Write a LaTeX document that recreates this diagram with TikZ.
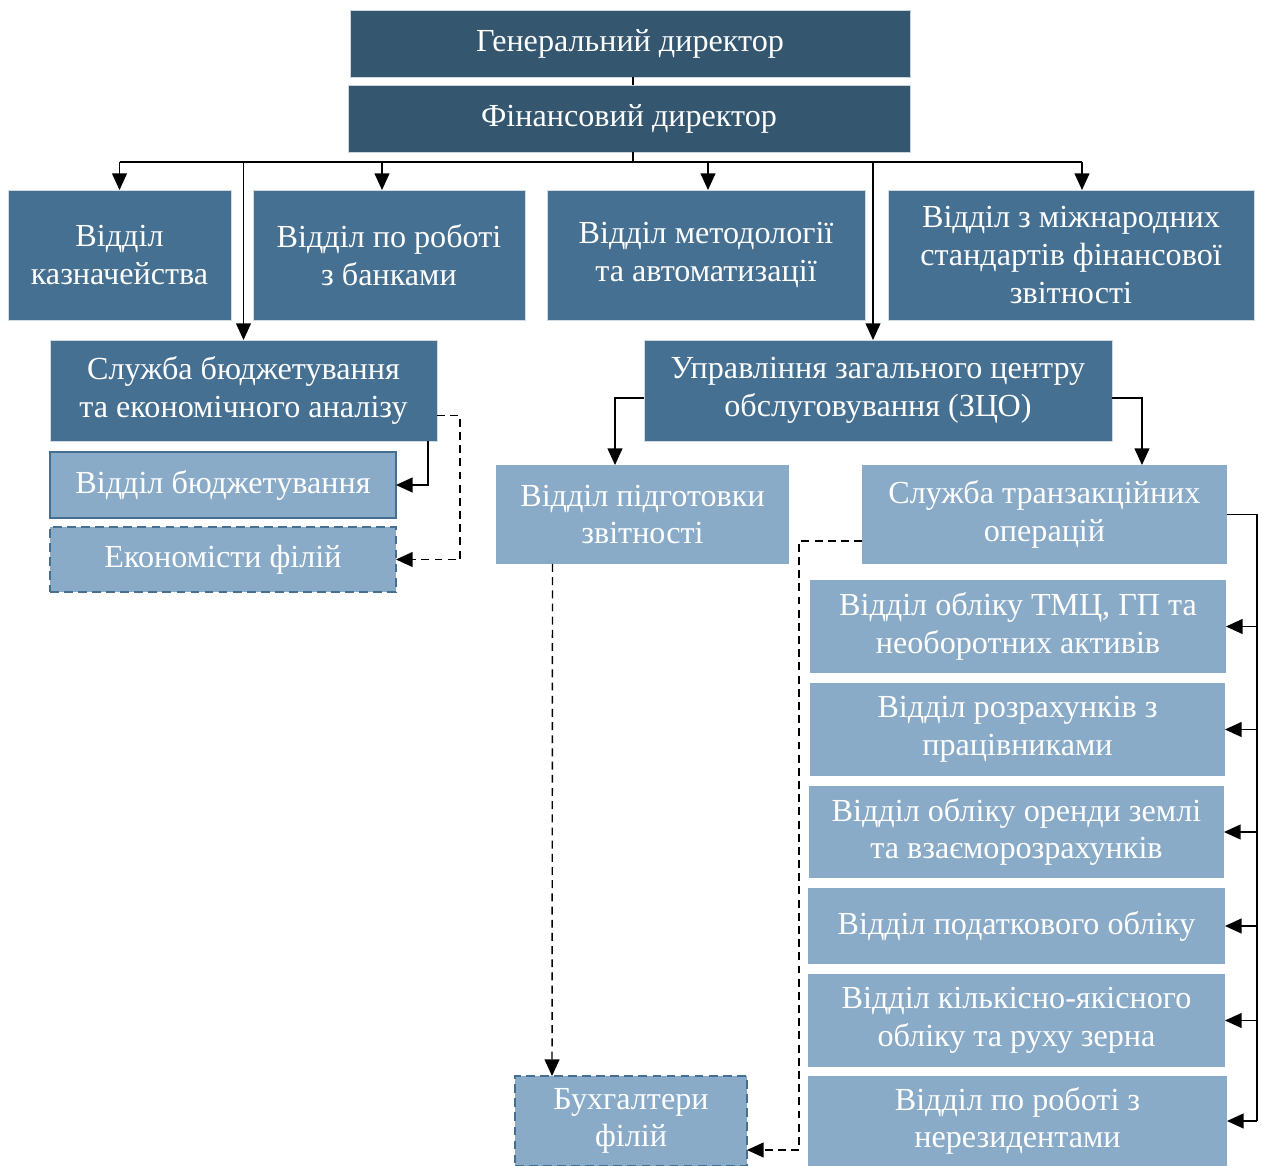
\documentclass[tikz,border=0pt]{standalone}
\usepackage{fontspec}
\setmainfont{Liberation Serif}
\usetikzlibrary{arrows.meta}
\definecolor{topblue}{RGB}{52,86,111}
\definecolor{midblue}{RGB}{70,112,146}
\definecolor{lightblue}{RGB}{138,171,200}
\begin{document}
\begin{tikzpicture}[x=0.02cm, y=-0.02cm, font=\fontsize{18.3}{21.5}\selectfont]
\tikzset{
  base/.style={rectangle, inner sep=0pt, outer sep=0pt, align=center, text=white},
  topbox/.style={base, fill=topblue, draw=white!75!topblue, line width=0.4pt},
  midbox/.style={base, fill=midblue, draw=white!75!midblue, line width=0.4pt},
  lightbox/.style={base, fill=lightblue},
  framebox/.style={lightbox, draw=midblue, line width=1.2pt},
  dashbox/.style={lightbox, draw=midblue, line width=1.2pt, dash pattern=on 5pt off 3pt},
  arr/.style={-{Triangle[width=8.5pt,length=9.5pt]}, line width=0.8pt},
  dasharr/.style={arr, dash pattern=on 4.5pt off 3pt},
  line/.style={line width=0.8pt},
}
\useasboundingbox (0,0) rectangle (1262,1166);
% top management
\node[topbox, minimum width=11.2cm, minimum height=1.34cm] (gen) at (630,43.5) {Генеральний директор};
\node[topbox, minimum width=11.24cm, minimum height=1.34cm] (fin) at (629,118.5) {Фінансовий директор};
% departments under the CFO
\node[midbox, minimum width=4.46cm, minimum height=2.6cm] (kazn) at (119.5,255) {Відділ\\казначейства};
\node[midbox, minimum width=5.44cm, minimum height=2.6cm] (bank) at (389,255) {Відділ по роботі\\з банками};
\node[midbox, minimum width=6.36cm, minimum height=2.6cm] (metod) at (706,255) {Відділ методології\\та автоматизації};
\node[midbox, minimum width=7.32cm, minimum height=2.6cm] (ifrs) at (1071,255) {Відділ з міжнародних\\стандартів фінансової\\звітності};
% budgeting
\node[midbox, minimum width=7.74cm, minimum height=2.02cm] (budsl) at (243.5,390.5) {Служба бюджетування\\та економічного аналізу};
\node[framebox, minimum width=6.92cm, minimum height=1.32cm] (budv) at (223,485) {Відділ бюджетування};
\node[dashbox, minimum width=6.92cm, minimum height=1.3cm] (econ) at (223,559.5) {Економісти філій};
% shared service centre
\node[midbox, minimum width=9.36cm, minimum height=2.02cm] (zco) at (878,390.5) {Управління загального центру\\обслуговування (ЗЦО)};
\node[lightbox, minimum width=5.86cm, minimum height=1.98cm] (pidg) at (642.5,514.5) {Відділ підготовки\\звітності};
\node[lightbox, minimum width=7.3cm, minimum height=1.98cm] (tran) at (1044.5,514.5) {Служба транзакційних\\операцій};
\node[lightbox, minimum width=8.32cm, minimum height=1.86cm] (tmc) at (1018,626.5) {Відділ обліку ТМЦ, ГП та\\необоротних активів};
\node[lightbox, minimum width=8.3cm, minimum height=1.86cm] (rozr) at (1017.5,729.5) {Відділ розрахунків з\\працівниками};
\node[lightbox, minimum width=8.3cm, minimum height=1.84cm] (orend) at (1016.5,832) {Відділ обліку оренди землі\\та взаєморозрахунків};
\node[lightbox, minimum width=8.34cm, minimum height=1.52cm] (podat) at (1016.5,926) {Відділ податкового обліку};
\node[lightbox, minimum width=8.34cm, minimum height=1.86cm] (kilk) at (1016.5,1020.5) {Відділ кількісно-якісного\\обліку та руху зерна};
\node[lightbox, minimum width=8.38cm, minimum height=1.8cm] (nerez) at (1017.5,1121) {Відділ по роботі з\\нерезидентами};
\node[dashbox, minimum width=4.64cm, minimum height=1.8cm] (buh) at (631,1121) {Бухгалтери\\філій};
% connectors
\coordinate (bus) at (633,162);
\coordinate (rail) at (1257,514.5);
\draw[line] (bus |- gen.south) -- (bus |- fin.north);
\draw[line] (bus |- fin.south) -- (bus);
\draw[line] (bus -| kazn.north) -- ([xshift=0.22cm]bus -| ifrs.north);
\draw[arr] (bus -| kazn.north) -- (kazn.north);
\draw[arr] ([xshift=-0.14cm]bus -| bank.north) -- ([xshift=-0.14cm]bank.north);
\draw[arr] ([xshift=0.04cm]bus -| metod.north) -- ([xshift=0.04cm]metod.north);
\draw[arr] ([xshift=0.22cm]bus -| ifrs.north) -- ([xshift=0.22cm]ifrs.north);
\draw[arr] (bus -| budsl.north) -- (budsl.north);
\draw[arr] ([xshift=-0.1cm]bus -| zco.north) -- ([xshift=-0.1cm]zco.north);
\draw[arr] ([xshift=-0.18cm]budsl.south east) |- (budv.east);
\draw[dasharr] ([yshift=-0.5cm]budsl.east) -- ++(23,0) |- (econ.east);
\draw[arr] ([yshift=-0.15cm]zco.west) -| ([xshift=-0.55cm]pidg.north);
\draw[arr] ([yshift=-0.15cm]zco.east) -| ([xshift=1.95cm]tran.north);
\draw[dasharr] ([xshift=-1.8cm]pidg.south) -- ([xshift=-1.58cm]buh.north);
\draw[dasharr] ([yshift=-0.53cm]tran.west) -- ++(-63,0) |- ([yshift=-0.58cm]buh.east);
\draw[line] (tran.east) -- (rail) -- (rail |- nerez.east);
\foreach \dep in {tmc,rozr,orend,podat,kilk,nerez}
  \draw[arr] (rail |- \dep.east) -- (\dep.east);
\end{tikzpicture}
\end{document}
